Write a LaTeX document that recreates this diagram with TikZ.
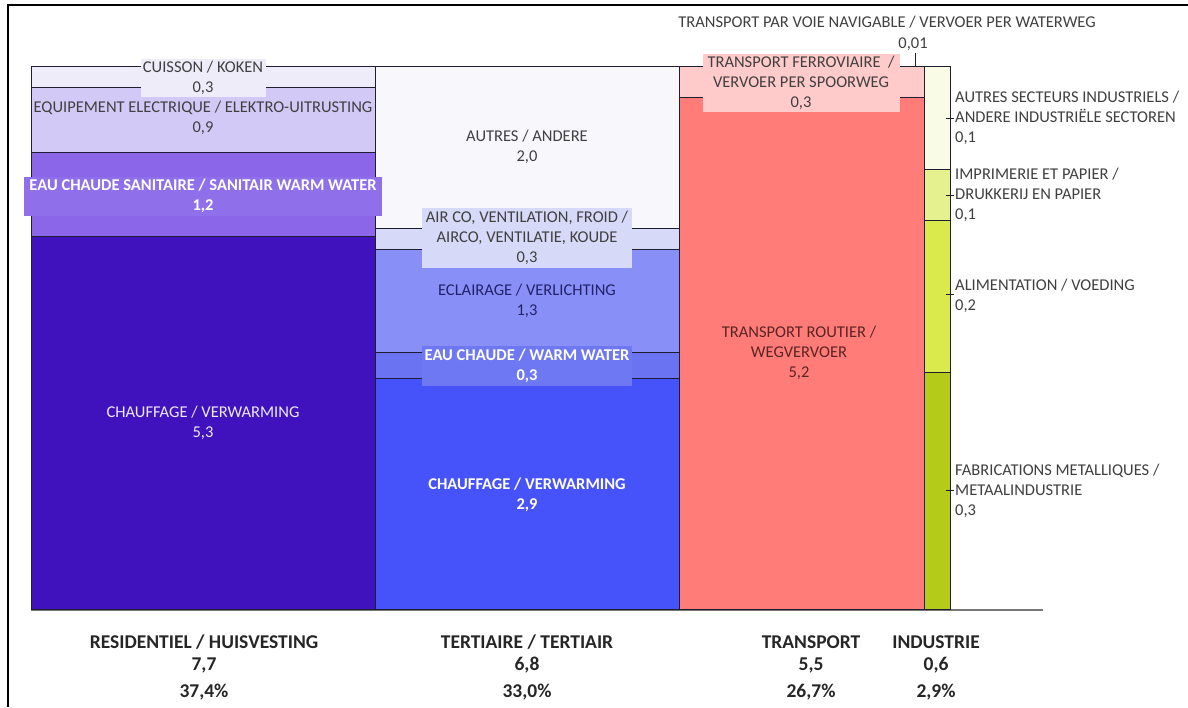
\documentclass[tikz,border=0pt]{standalone}
\usepackage{fontspec}
\setmainfont{Carlito}
\definecolor{resCuis}{HTML}{EFECFA}
\definecolor{resEquip}{HTML}{D3C9F6}
\definecolor{resECS}{HTML}{8C66E8}
\definecolor{resECSbox}{HTML}{9070EA}
\definecolor{resChauf}{HTML}{3F12BD}
\definecolor{terAut}{HTML}{F8F8FC}
\definecolor{terAir}{HTML}{D6DAF8}
\definecolor{terEcl}{HTML}{8890F7}
\definecolor{terEau}{HTML}{6A74F2}
\definecolor{terEauBox}{HTML}{6E78F3}
\definecolor{terChauf}{HTML}{4753FA}
\definecolor{trRail}{HTML}{FFCACA}
\definecolor{trRoad}{HTML}{FF7C78}
\definecolor{inAut}{HTML}{FAFBE6}
\definecolor{inImp}{HTML}{E5F08F}
\definecolor{inAli}{HTML}{D9EB4C}
\definecolor{inFab}{HTML}{B4CB19}
\definecolor{segline}{HTML}{1E1E30}
\definecolor{txtdark}{HTML}{404040}
\definecolor{txtnavy}{HTML}{22226A}
\definecolor{txtred}{HTML}{5A2424}
\definecolor{txtlight}{HTML}{EEEAFF}
\definecolor{axisgrey}{HTML}{777777}
\begin{document}
\begin{tikzpicture}[x=1pt,y=-1pt,
  seg/.style={draw=segline,line width=1pt},
  lbl/.style={font=\fontsize{16.5}{20}\selectfont,align=center,inner sep=0pt,text=txtdark},
  wlbl/.style={lbl,text=white,font=\bfseries\fontsize{16.5}{20}\selectfont},
  ilbl/.style={lbl,align=left,anchor=west},
  tickline/.style={draw=segline,line width=0.8pt},
  bottom/.style={font=\bfseries\fontsize{19.5}{20}\selectfont,text=black!85,inner sep=0pt}]
\useasboundingbox (0,0) rectangle (1188,707);
\fill[white] (0,0) rectangle (1188,707);
\draw[line width=2.5pt] (8,707) -- (8,5) -- (1188,5);

% axis
\draw[axisgrey,line width=1.8pt] (31,610) -- (1043,610);

% residential column
\path[seg,fill=resCuis] (31,66) rectangle (375,87);
\path[seg,fill=resEquip] (31,87) rectangle (375,152);
\path[seg,fill=resECS] (31,152) rectangle (375,236);
\path[seg,fill=resChauf] (31,236) rectangle (375,609);

% tertiary column
\path[seg,fill=terAut] (375,66) rectangle (679,228);
\path[seg,fill=terAir] (375,228) rectangle (679,249);
\path[seg,fill=terEcl] (375,249) rectangle (679,352);
\path[seg,fill=terEau] (375,352) rectangle (679,378);
\path[seg,fill=terChauf] (375,378) rectangle (679,609);

% transport column
\path[seg,fill=trRail] (679,66) rectangle (924,97);
\path[seg,fill=trRoad] (679,97) rectangle (924,609);

% industry column
\path[seg,fill=inAut] (924,66) rectangle (950,169);
\path[seg,fill=inImp] (924,169) rectangle (950,220);
\path[seg,fill=inAli] (924,220) rectangle (950,372);
\path[seg,fill=inFab] (924,372) rectangle (950,609);

% residential labels
\node[lbl,fill=resCuis,minimum width=125pt,minimum height=38pt] (cuis) at (203,78) {CUISSON / KOKEN\\0,3};
\node[lbl] (equip) at (203,118) {EQUIPEMENT ELECTRIQUE / ELEKTRO-UITRUSTING\\0,9};
\node[wlbl,fill=resECSbox,minimum width=358pt,minimum height=39pt] (ecs) at (203,196) {EAU CHAUDE SANITAIRE / SANITAIR WARM WATER\\1,2};
\node[lbl,text=txtlight] (reschauf) at (203,423) {CHAUFFAGE / VERWARMING\\5,3};

% tertiary labels
\node[lbl] (autres) at (527,147) {AUTRES / ANDERE\\2,0};
\node[lbl,fill=terAir,minimum width=210pt,minimum height=60pt] (airco) at (527,238) {AIR CO, VENTILATION, FROID /\\AIRCO, VENTILATIE, KOUDE\\0,3};
\node[lbl,text=txtnavy] (eclair) at (527,301) {ECLAIRAGE / VERLICHTING\\1,3};
\node[wlbl,fill=terEauBox,minimum width=210pt,minimum height=40pt] (eau) at (527,366) {EAU CHAUDE / WARM WATER\\0,3};
\node[wlbl] (terchauf) at (527,495) {CHAUFFAGE / VERWARMING\\2,9};

% transport labels
\node[lbl] (water) at (887,22) {TRANSPORT PAR VOIE NAVIGABLE / VERVOER PER WATERWEG};
\node[lbl] (waterval) at (913,44) {0,01};
\coordinate (wtop) at (915,53);
\coordinate (wbot) at (915,66);
\draw[tickline] (wtop) -- (wbot);
\node[lbl,fill=trRail,minimum width=197pt,minimum height=58pt] (rail) at (801,83) {TRANSPORT FERROVIAIRE \ /\\VERVOER PER SPOORWEG\\0,3};
\node[lbl,text=txtred] (road) at (799,353) {TRANSPORT ROUTIER /\\WEGVERVOER\\5,2};

% industry labels
\node[ilbl] (iaut) at (955,118) {AUTRES SECTEURS INDUSTRIELS /\\ANDERE INDUSTRIËLE SECTOREN\\0,1};
\node[ilbl] (iimp) at (955,195) {IMPRIMERIE ET PAPIER /\\DRUKKERIJ EN PAPIER\\0,1};
\node[ilbl] (iali) at (955,296) {ALIMENTATION / VOEDING\\0,2};
\node[ilbl] (ifab) at (955,491) {FABRICATIONS METALLIQUES /\\METAALINDUSTRIE\\0,3};
\coordinate (taut) at (946,118);
\coordinate (timp) at (946,195);
\coordinate (tali) at (946,294);
\coordinate (tfab) at (946,490);
\draw[tickline] (taut) -- ([xshift=-1pt]iaut.west);
\draw[tickline] (timp) -- ([xshift=-1pt]iimp.west);
\draw[tickline] (tali) -- ([xshift=-1pt]iali.west |- tali);
\draw[tickline] (tfab) -- ([xshift=-1pt]ifab.west |- tfab);

% bottom labels
\node[bottom] (bres) at (204,642) {RESIDENTIEL / HUISVESTING};
\node[bottom] (bresv) at (204,665) {7,7};
\node[bottom] (bresp) at (204,692) {37,4\%};
\node[bottom] (bter) at (527,642) {TERTIAIRE / TERTIAIR};
\node[bottom] (bterv) at (527,665) {6,8};
\node[bottom] (bterp) at (527,692) {33,0\%};
\node[bottom] (btr) at (811,642) {TRANSPORT};
\node[bottom] (btrv) at (811,665) {5,5};
\node[bottom] (btrp) at (811,692) {26,7\%};
\node[bottom] (bin) at (936,642) {INDUSTRIE};
\node[bottom] (binv) at (936,665) {0,6};
\node[bottom] (binp) at (936,692) {2,9\%};
\end{tikzpicture}
\end{document}
